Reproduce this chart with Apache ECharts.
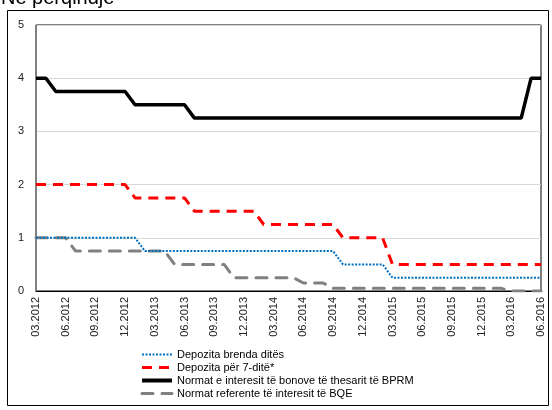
<!DOCTYPE html>
<html>
<head>
<meta charset="utf-8">
<script src="https://cdn.jsdelivr.net/npm/echarts@6/dist/echarts.min.js"></script>
<style>
html,body{margin:0;padding:0;background:#fff;}
#c{width:552px;height:410px;}
</style>
</head>
<body>
<div id="c"></div>
<script>
var categories = ['03.2012','04.2012','05.2012','06.2012','07.2012','08.2012','09.2012','10.2012','11.2012','12.2012',
'01.2013','02.2013','03.2013','04.2013','05.2013','06.2013','07.2013','08.2013','09.2013','10.2013','11.2013','12.2013',
'01.2014','02.2014','03.2014','04.2014','05.2014','06.2014','07.2014','08.2014','09.2014','10.2014','11.2014','12.2014',
'01.2015','02.2015','03.2015','04.2015','05.2015','06.2015','07.2015','08.2015','09.2015','10.2015','11.2015','12.2015',
'01.2016','02.2016','03.2016','04.2016','05.2016','06.2016'];

var overnight = [1,1,1,1,1,1,1,1,1,1,1,
0.75,0.75,0.75,0.75,0.75,0.75,0.75,0.75,0.75,0.75,0.75,0.75,0.75,0.75,0.75,0.75,0.75,0.75,0.75,0.75,
0.5,0.5,0.5,0.5,0.5,
0.25,0.25,0.25,0.25,0.25,0.25,0.25,0.25,0.25,0.25,0.25,0.25,0.25,0.25,0.25,0.25];

var sevenDay = [2,2,2,2,2,2,2,2,2,2,
1.75,1.75,1.75,1.75,1.75,1.75,
1.5,1.5,1.5,1.5,1.5,1.5,1.5,
1.25,1.25,1.25,1.25,1.25,1.25,1.25,1.25,
1,1,1,1,1,
0.5,0.5,0.5,0.5,0.5,0.5,0.5,0.5,0.5,0.5,0.5,0.5,0.5,0.5,0.5,0.5];

var bprm = [4,4,
3.75,3.75,3.75,3.75,3.75,3.75,3.75,3.75,
3.5,3.5,3.5,3.5,3.5,3.5,
3.25,3.25,3.25,3.25,3.25,3.25,3.25,3.25,3.25,3.25,3.25,3.25,3.25,3.25,3.25,3.25,3.25,3.25,3.25,3.25,3.25,3.25,3.25,3.25,3.25,3.25,3.25,3.25,3.25,3.25,3.25,3.25,3.25,3.25,
4,4];

var bqe = [1,1,1,1,
0.75,0.75,0.75,0.75,0.75,0.75,0.75,0.75,0.75,0.75,
0.5,0.5,0.5,0.5,0.5,0.5,
0.25,0.25,0.25,0.25,0.25,0.25,0.25,
0.15,0.15,0.15,
0.05,0.05,0.05,0.05,0.05,0.05,0.05,0.05,0.05,0.05,0.05,0.05,0.05,0.05,0.05,0.05,0.05,0.05,
0,0,0,0];

var seriesNames = ['Depozita brenda ditës','Depozita për 7-ditë*','Normat e interesit të bonove të thesarit të BPRM','Normat referente të interesit të BQE'];

var font = 'Liberation Sans, Arial, sans-serif';
var chart = echarts.init(document.getElementById('c'), null, {renderer:'canvas'});
chart.setOption({
  animation:false,
  backgroundColor:'#fff',
  textStyle:{fontFamily:font},
  graphic:[
    {type:'rect', shape:{x:7.5,y:10.5,width:541,height:395}, style:{fill:null, stroke:'#000', lineWidth:1}, z:0},
    {type:'text', x:1, y:8.5, style:{text:'Në përqindje', font:'20px Liberation Sans, Arial, sans-serif', fill:'#000', verticalAlign:'bottom'}, z:10}
  ],
  grid:{left:36, right:11, top:25, bottom:119, show:true, borderColor:'#000', borderWidth:1},
  legend:{
    orient:'vertical', left:140, top:349, padding:0, itemWidth:30, itemHeight:13, itemGap:2,
    itemStyle:{opacity:0, color:'rgba(0,0,0,0)', borderWidth:0},
    textStyle:{fontSize:11, color:'#000', fontFamily:font},
    data:[
      {name:seriesNames[0], lineStyle:{width:2}},
      {name:seriesNames[1], lineStyle:{width:3}},
      {name:seriesNames[2], lineStyle:{width:4}},
      {name:seriesNames[3], lineStyle:{width:3}}
    ]
  },
  xAxis:{
    type:'category', data:categories, boundaryGap:false,
    axisLine:{lineStyle:{color:'#000', width:1}},
    axisTick:{show:false},
    axisLabel:{interval:2, rotate:90, fontSize:11, color:'#222', margin:6, hideOverlap:false, fontFamily:font},
    splitLine:{show:false}
  },
  yAxis:{
    type:'value', min:0, max:5, interval:1,
    axisLine:{show:true, lineStyle:{color:'#808080', width:1}},
    axisTick:{show:false},
    axisLabel:{fontSize:11, color:'#222', margin:12, fontFamily:font},
    splitLine:{lineStyle:{color:'#d9d9d9', width:1}}
  },
  series:[
    {name:seriesNames[0], type:'line', data:overnight, symbol:'none', z:4,
     lineStyle:{color:'#0070c0', width:2, type:[2,1.5]}, itemStyle:{color:'#0070c0'}},
    {name:seriesNames[1], type:'line', data:sevenDay, symbol:'none', z:3,
     lineStyle:{color:'#ff0000', width:3, type:[10,7]}, itemStyle:{color:'#ff0000'}},
    {name:seriesNames[2], type:'line', data:bprm, symbol:'none', z:3,
     lineStyle:{color:'#000', width:3.5, type:'solid'}, itemStyle:{color:'#000'}},
    {name:seriesNames[3], type:'line', data:bqe, symbol:'none', z:2,
     lineStyle:{color:'#808080', width:3, type:[11,9], cap:'round'}, itemStyle:{color:'#808080'}}
  ]
});
</script>
</body>
</html>
